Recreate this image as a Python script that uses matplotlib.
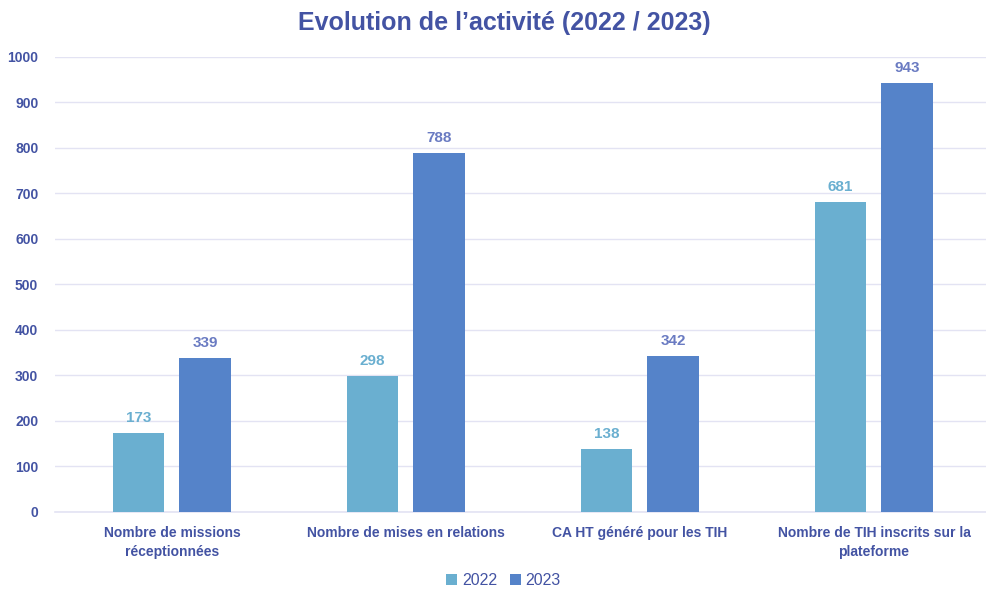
import matplotlib
matplotlib.use("Agg")
import matplotlib.pyplot as plt
import numpy as np

# data
categories = [
    "Nombre de missions\nréceptionnées",
    "Nombre de mises en relations",
    "CA HT généré pour les TIH",
    "Nombre de TIH inscrits sur la\nplateforme",
]
values_2022 = [173, 298, 138, 681]
values_2023 = [339, 788, 342, 943]
series_labels = ["2022", "2023"]

# colors
COLOR_2022 = "#6AAFD0"
COLOR_2023 = "#5583C9"
COLOR_TEXT = "#4353A3"
COLOR_LBL_2023 = "#6A7BC2"
COLOR_GRID = "#E3E3F3"

plt.rcParams["font.family"] = ["Liberation Sans", "DejaVu Sans"]

fig = plt.figure(figsize=(9.87, 5.91), dpi=100)
ax = fig.add_axes([0.0557, 0.1337, 0.9443, 0.7699])

x = np.arange(len(categories))
w = 0.222
off = 0.143

b1 = ax.bar(x - off, values_2022, width=w, color=COLOR_2022, label=series_labels[0], zorder=3)
b2 = ax.bar(x + off, values_2023, width=w, color=COLOR_2023, label=series_labels[1], zorder=3)

for rect, v in zip(b1, values_2022):
    ax.text(rect.get_x() + rect.get_width() / 2, v + 18, str(v), ha="center", va="bottom",
            fontsize=11, fontweight="bold", color=COLOR_2022)
for rect, v in zip(b2, values_2023):
    ax.text(rect.get_x() + rect.get_width() / 2, v + 18, str(v), ha="center", va="bottom",
            fontsize=11, fontweight="bold", color=COLOR_LBL_2023)

ax.set_xlim(-0.5, len(categories) - 0.517)
ax.set_ylim(0, 1000)
ax.set_yticks(np.arange(0, 1001, 100))
ax.set_xticks(x)
ax.set_xticklabels(categories, fontsize=10, fontweight="bold", color=COLOR_TEXT, linespacing=1.5)
ax.tick_params(axis="y", labelsize=10, labelcolor=COLOR_TEXT, length=0, pad=12)
ax.tick_params(axis="x", length=0, pad=10)
for lbl in ax.get_yticklabels():
    lbl.set_fontweight("bold")

ax.grid(axis="y", color=COLOR_GRID, linewidth=1, zorder=0)
for side in ["top", "right", "left"]:
    ax.spines[side].set_visible(False)
ax.spines["bottom"].set_color(COLOR_GRID)
ax.spines["bottom"].set_linewidth(1.2)

fig.text(0.511, 0.961, "Evolution de l’activité (2022 / 2023)", ha="center", va="center",
         fontsize=18, fontweight="bold", color=COLOR_TEXT)

fig.legend(loc="center", bbox_to_anchor=(0.51, 0.018), ncol=2, frameon=False,
           fontsize=11.5, labelcolor=COLOR_TEXT, handlelength=0.7, handleheight=0.7,
           handletextpad=0.3, columnspacing=0.8)

fig.savefig("out.png", dpi=100, facecolor="white")
